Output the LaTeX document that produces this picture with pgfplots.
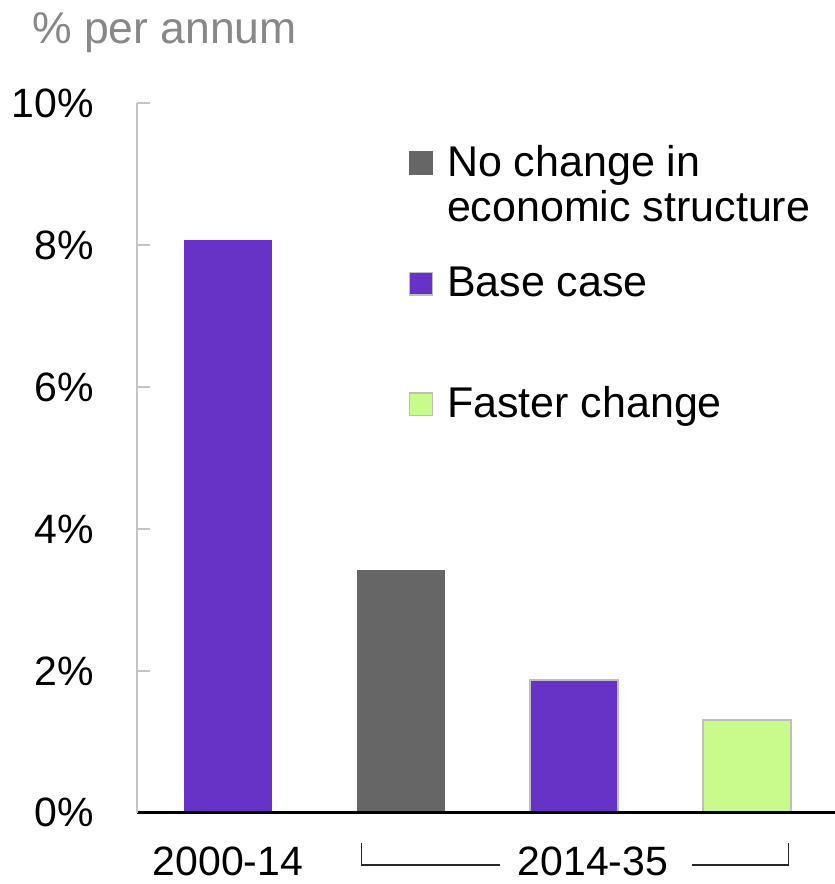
\documentclass[border=0pt]{standalone}
\usepackage{pgfplots}
\pgfplotsset{compat=1.18}
\usepackage{fontspec}
\setmainfont{Liberation Sans}
\definecolor{barpurple}{HTML}{6633C6}
\definecolor{bargray}{HTML}{666666}
\definecolor{bargreen}{HTML}{C9FA8C}
\definecolor{edgegray}{HTML}{BEBEBE}
\definecolor{axisgray}{HTML}{C4C4C4}
\definecolor{titlegray}{HTML}{888888}
\begin{document}
\begin{tikzpicture}
\useasboundingbox (-137pt,-71.3pt) rectangle (698pt,812.7pt);
\begin{axis}[
  at={(0pt,0pt)}, anchor=south west,
  scale only axis, width=698pt, height=709.4pt,
  xmin=-0.526, xmax=3.51, ymin=0, ymax=10,
  axis lines*=left,
  x axis line style={black, line width=3pt},
  y axis line style={axisgray, line width=2pt},
  axis on top, clip=false,
  ytick={0,2,4,6,8,10},
  yticklabels={0\%,2\%,4\%,6\%,8\%,10\%},
  ytick style={axisgray, line width=2pt},
  tick align=inside, major tick length=13pt,
  xtick={0}, xticklabels={2000-14},
  xtick style={draw=none},
  ticklabel style={font=\fontsize{41}{48}\selectfont, inner sep=0pt},
  yticklabel style={anchor=east, xshift=-43pt},
  xticklabel style={anchor=north, yshift=-34pt},
  legend cell align=left,
  legend style={at={(0.3897,0.9412)}, anchor=north west, draw=none, fill=none,
    inner sep=0pt, outer sep=0pt, row sep=0pt, column sep=0pt,
    font=\fontsize{43}{45}\selectfont,
    nodes={inner sep=0pt, outer sep=0pt},
    cells={anchor=base west}},
]
\addplot[ybar, bar width=88pt, bar shift=0pt, fill=barpurple, draw=none, forget plot] coordinates {(0,8.07)};
\addplot[ybar, bar width=88pt, bar shift=0pt, fill=bargray, draw=none, forget plot] coordinates {(1,3.42)};
\addplot[ybar, bar width=88pt, bar shift=0pt, fill=barpurple, draw=edgegray, line width=1.5pt, forget plot] coordinates {(2,1.87)};
\addplot[ybar, bar width=88pt, bar shift=0pt, fill=bargreen, draw=edgegray, line width=1.5pt, forget plot] coordinates {(3,1.31)};
\addlegendimage{legend image code/.code={\fill[bargray, draw=none] (0pt,1pt) rectangle (24pt,25pt); \path[draw=none, fill=none] (0pt,-89.5pt) rectangle (38pt,31pt);}}
\addlegendentry{\parbox[t]{400pt}{No change in\\economic structure}}
\addlegendimage{legend image code/.code={\filldraw[fill=barpurple, draw=edgegray, line width=1.2pt] (0.6pt,1.6pt) rectangle (23.4pt,24.4pt); \path[draw=none, fill=none] (0pt,-89.5pt) rectangle (38pt,31pt);}}
\addlegendentry{Base case}
\addlegendimage{legend image code/.code={\filldraw[fill=bargreen, draw=edgegray, line width=1.2pt] (0.6pt,1.6pt) rectangle (23.4pt,24.4pt); \path[draw=none, fill=none] (0pt,-10pt) rectangle (38pt,31pt);}}
\addlegendentry{Faster change}
\end{axis}
\node[anchor=base west, text=titlegray, inner sep=0pt, font=\fontsize{44.5}{48}\selectfont] at (-105pt,769pt) {\% per annum};
\node[anchor=base, inner sep=0pt, font=\fontsize{41}{48}\selectfont] at (456pt,-63pt) {2014-35};
\draw[black!85, line width=1.5pt] (224.7pt,-30.3pt) -- (224.7pt,-52.3pt) -- (363pt,-52.3pt);
\draw[black!85, line width=1.5pt] (554.7pt,-52.3pt) -- (651.3pt,-52.3pt) -- (651.3pt,-30.3pt);
\end{tikzpicture}
\end{document}
